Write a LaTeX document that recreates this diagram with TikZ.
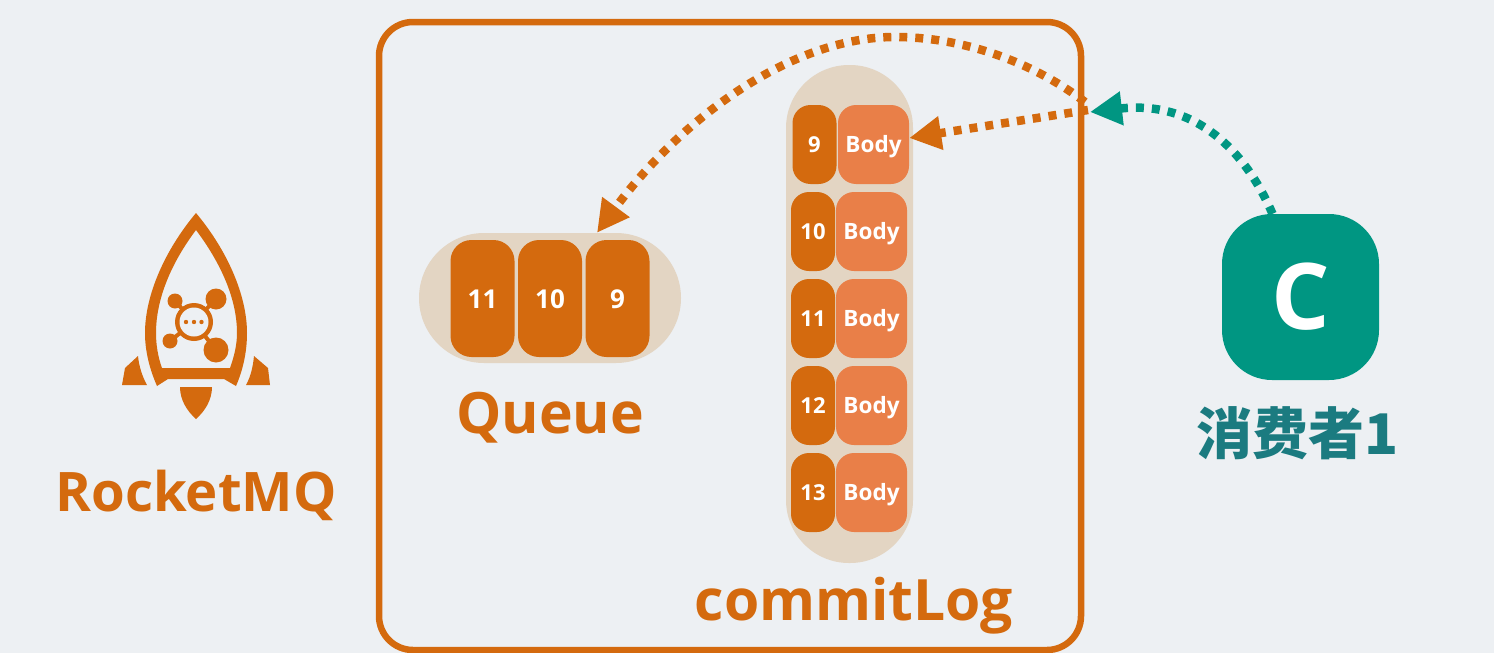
\documentclass[tikz,border=0pt]{standalone}
\usepackage{fontspec}
\setmainfont{Open Sans}
\newfontfamily\cjk{Noto Sans CJK SC}
\usetikzlibrary{arrows.meta}
\definecolor{bgc}{HTML}{EDF0F3}
\definecolor{org}{HTML}{D46A0E}
\definecolor{bodyc}{HTML}{E97F48}
\definecolor{pillc}{HTML}{E3D5C3}
\definecolor{teal1}{HTML}{009682}
\definecolor{teal2}{HTML}{1B7B80}
\tikzset{
  x=1pt,y=-1pt,
  pill/.style={fill=pillc,rounded corners=#1,inner sep=0pt},
  qcell/.style={fill=org,text=white,rounded corners=21pt,minimum width=64pt,minimum height=117pt,inner sep=0pt,text height=19pt,text depth=0pt,font=\bfseries\fontsize{26}{26}\selectfont},
  idcell/.style={fill=org,text=white,rounded corners=18pt,minimum width=44pt,minimum height=79pt,inner sep=0pt,text height=16pt,text depth=0pt,font=\bfseries\fontsize{22}{22}\selectfont},
  bodycell/.style={fill=bodyc,text=white,rounded corners=18pt,minimum width=71pt,minimum height=79pt,inner sep=0pt,text height=16pt,text depth=0pt,font=\bfseries\fontsize{22.5}{23}\selectfont},
  dots/.style={line width=8.5pt,dash pattern=on 8pt off 8pt},
  tiparrow/.style={-{Triangle[length=32pt,width=32pt]}},
  biglabel/.style={inner sep=0pt,font=\bfseries\fontsize{#1}{#1}\selectfont},
}
\begin{document}
\begin{tikzpicture}
\fill[bgc] (0,0) rectangle (1494,653);
\path[use as bounding box] (0,0) rectangle (1494,653);
\clip (0,0) rectangle (1494,653);

% rocket
\fill[org,even odd rule]
  (196,213) .. controls (165,250) and (145,295) .. (145,333)
  .. controls (145,352) and (150,370) .. (157,386) -- (168,379) -- (224,379) -- (236,386)
  .. controls (243,370) and (247,352) .. (247,333)
  .. controls (247,295) and (227,250) .. (196,213) -- cycle
  (196,230) .. controls (172,262) and (156,298) .. (156,333)
  .. controls (156,345) and (158,357) .. (162,368) -- (230,368)
  .. controls (234,357) and (237,345) .. (237,333)
  .. controls (237,298) and (220,262) .. (196,230) -- cycle;
\fill[org] (138,356) -- (125,368) -- (122,385) -- (147,385) .. controls (142,376) and (139,366) .. (138,356) -- cycle;
\fill[org] (254,356) -- (268,368) -- (270,385) -- (246,385) .. controls (251,376) and (253,366) .. (254,356) -- cycle;
\fill[org] (180,387) -- (212,387) .. controls (212,400) and (205,411) .. (196,419) .. controls (187,411) and (180,400) .. (180,387) -- cycle;
\draw[org,line width=4pt] (175,301) -- (194,322) (216,299) -- (194,322) (170,341) -- (194,322) (216,350) -- (194,322);
\fill[org] (175,301) circle (7.5) (216,299) circle (10.5) (216,350) circle (12.5) (170,341) circle (7.5);
\fill[org] (194,322) circle (19);
\fill[bgc] (194,322) circle (14.5);
\fill[org] (186,322) circle (2.2) (194,322) circle (2.2) (201.5,322) circle (2.2);

\node[biglabel=54.5,text=org] (rocketlabel) at (196,495) {RocketMQ};

% outer box
\node[draw=org,line width=6.5pt,rounded corners=34pt,minimum width=702pt,minimum height=628pt,inner sep=0pt] (box) at (730,336) {};

% queue
\node[pill=65pt,minimum width=262pt,minimum height=130pt] (qpill) at (550,298) {};
\node[qcell] (q11) at (482.5,298.5) {11};
\node[qcell] (q10) at (550,298.5) {10};
\node[qcell] (q9) at (617.5,298.5) {9};
\node[biglabel=57,text=org] (qlabel) at (550,418) {Queue};

% commitlog
\node[pill=63pt,minimum width=127pt,minimum height=498pt] (cpill) at (849.5,314) {};
\node[idcell] (i9) at (814.5,144.5) {9};
\node[bodycell] (b9) at (873.5,144.5) {Body};
\node[idcell] (i10) at (813,231.5) {10};
\node[bodycell] (b10) at (871.5,231.5) {Body};
\node[idcell] (i11) at (813,318.5) {11};
\node[bodycell] (b11) at (871.5,318.5) {Body};
\node[idcell] (i12) at (813,405.5) {12};
\node[bodycell] (b12) at (871.5,405.5) {Body};
\node[idcell] (i13) at (813,492.5) {13};
\node[bodycell] (b13) at (871.5,492.5) {Body};
\node[biglabel=57,text=org] (clabel) at (854,606) {commitLog};

% consumer
\node[fill=teal1,text=white,rounded corners=50pt,minimum width=157pt,minimum height=166pt,inner sep=0pt,font=\bfseries\fontsize{92}{92}\selectfont] (cons) at (1300.5,297) {C};
\node[inner sep=0pt,text=teal2,font=\cjk\bfseries\fontsize{56}{56}\selectfont] (conslabel) at (1298,433) {消费者1};

% connectors
\coordinate (hubarc) at (1085,102);
\coordinate (hubline) at (1088,110);
\coordinate (tealend) at (1090,112);
\coordinate (apex) at (895,37);
\draw[dots,org,tiparrow] (hubarc) .. controls (1030,60) and (960,37) .. (apex) .. controls (790,37) and (680,120) .. ([xshift=47pt]qpill.north);
\draw[dots,org,tiparrow] (hubline) -- ([yshift=6.5pt]b9.east);
\draw[dots,teal1,tiparrow] ([xshift=-28pt]cons.north) .. controls (1245,150) and (1195,100) .. (tealend);
\end{tikzpicture}
\end{document}
